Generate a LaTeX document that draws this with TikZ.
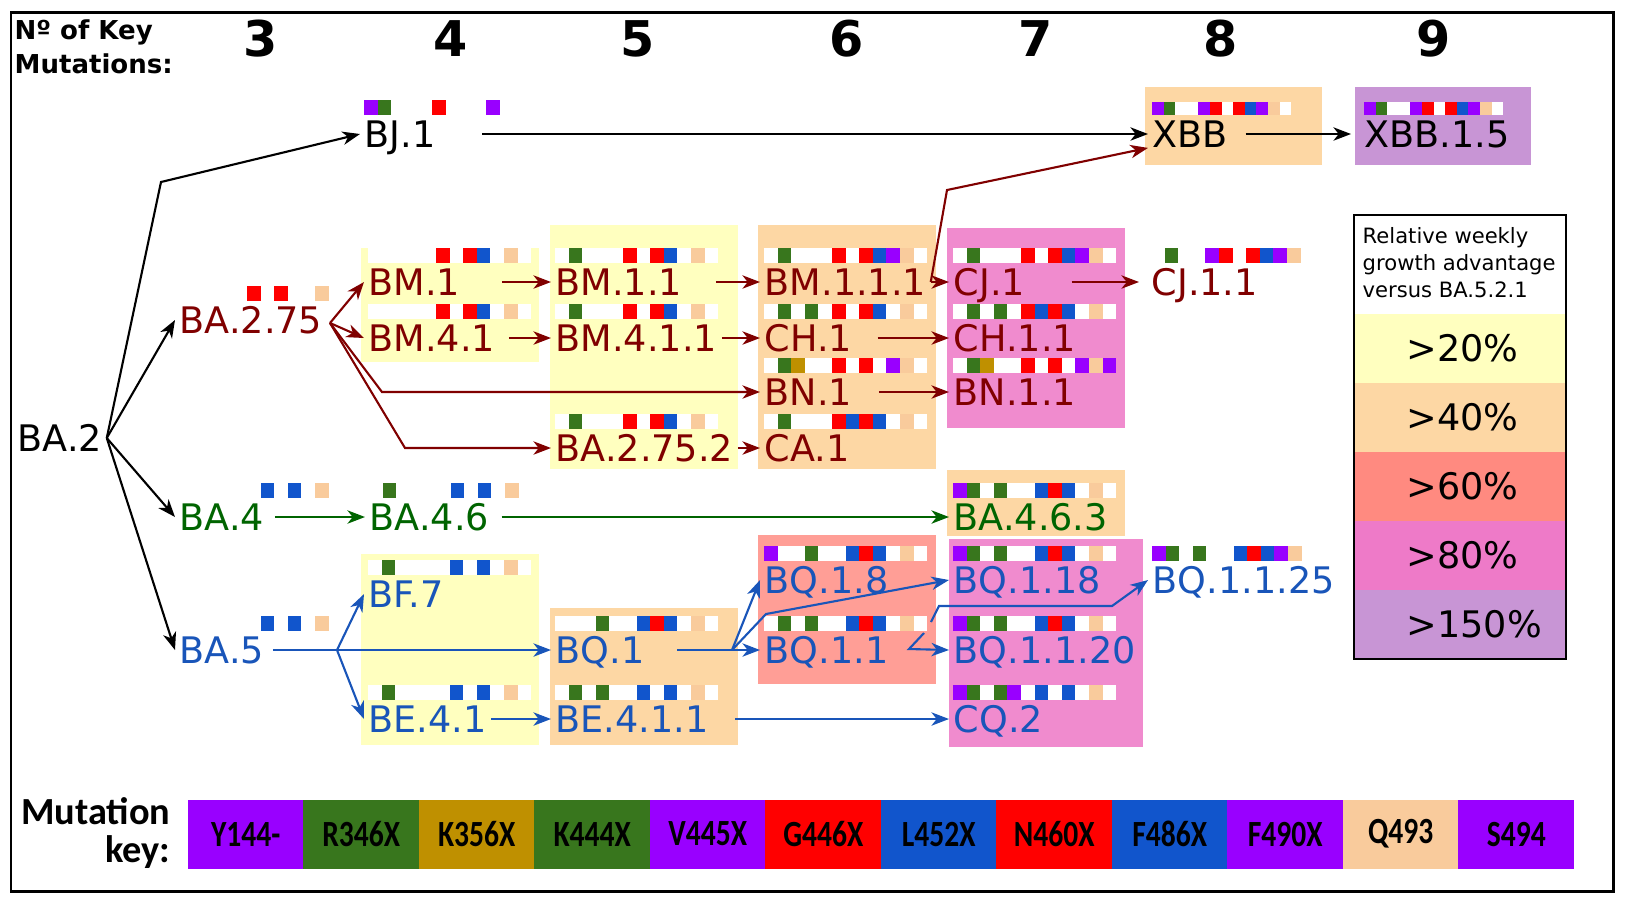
\documentclass[tikz,border=0pt]{standalone}
\usepackage{fontspec}
\setmainfont{DejaVu Sans}
\newfontfamily\keyfont[FakeStretch=0.8]{Carlito}
\newfontfamily\keyhead{Carlito}
\usetikzlibrary{arrows.meta,calc}

\definecolor{kpurple}{HTML}{9900FF}
\definecolor{kgreen}{HTML}{38761D}
\definecolor{kgold}{HTML}{BF9000}
\definecolor{kred}{HTML}{FF0000}
\definecolor{kblue}{HTML}{1155CC}
\definecolor{kpeach}{HTML}{F9CB9C}
\colorlet{mut1}{kpurple}
\colorlet{mut2}{kgreen}
\colorlet{mut3}{kgold}
\colorlet{mut4}{kgreen}
\colorlet{mut5}{kpurple}
\colorlet{mut6}{kred}
\colorlet{mut7}{kblue}
\colorlet{mut8}{kred}
\colorlet{mut9}{kblue}
\colorlet{mut10}{kpurple}
\colorlet{mut11}{kpeach}
\colorlet{mut12}{kpurple}

\definecolor{lin275}{RGB}{128,0,0}
\definecolor{lin4}{RGB}{0,100,0}
\definecolor{lin5}{RGB}{25,85,185}

\definecolor{grow20}{RGB}{255,255,191}
\definecolor{grow40}{RGB}{253,215,164}
\definecolor{grow60}{RGB}{255,138,128}
\definecolor{grow80}{RGB}{238,122,200}
\definecolor{grow150}{RGB}{200,149,213}
\definecolor{box60}{RGB}{255,158,150}
\definecolor{box80}{RGB}{240,139,206}

% coloured mutation cells above a lineage label
\newcommand{\mutdots}[3][13.6]{%
  \foreach \m in {#3}
    \fill[mut\m] ($(#2.west)+({4+#1*(\m-1)},{-19-1.1*#1})$) rectangle ++(#1,{1.1*#1});}
\newcommand{\mutbar}[3][13.6]{%
  \fill[white] ($(#2.west)+(4,{-19-1.1*#1})$) rectangle ++({12*#1},{1.1*#1});
  \mutdots[#1]{#2}{#3}}

\tikzset{
  lineage/.style={anchor=west, inner xsep=0.04cm, inner ysep=0pt,
    text height=7.5pt, text depth=0pt, font=\fontsize{10.4}{12}\selectfont},
  arr/.style={-{Stealth[length=5pt,width=3.8pt,inset=1.5pt]}, line width=0.6pt},
  mutnum/.style={font=\fontsize{14}{16}\selectfont\bfseries},
  hdr/.style={anchor=north west, align=left, inner sep=0pt,
    font=\fontsize{7.4}{9.7}\selectfont\bfseries},
  keycell/.style={minimum width=1.155cm, minimum height=0.69cm, inner sep=0pt,
    font=\keyfont\bfseries\fontsize{10.5}{12}\selectfont},
  keyname/.style={anchor=east, align=right, inner sep=0pt,
    font=\keyhead\bfseries\fontsize{10.9}{10.8}\selectfont},
  legtitle/.style={anchor=north west, align=left, inner sep=0pt,
    font=\fontsize{6}{7.7}\selectfont},
  bandlab/.style={anchor=west, inner sep=0pt, font=\fontsize{10.4}{12}\selectfont}
}

\begin{document}
\begin{tikzpicture}[x=0.01cm, y=-0.01cm]
  \useasboundingbox (0,0) rectangle (1625,899);
  \draw[line width=0.85pt] (11,12) rectangle (1613,891);

  % growth boxes
  \fill[grow20] (361,248) rectangle (539,362);
  \fill[grow20] (549.5,225) rectangle (738,469);
  \fill[grow40] (757.5,225) rectangle (935.5,469);
  \fill[box80] (946.5,228) rectangle (1124.5,428);
  \fill[grow40] (1145,87) rectangle (1322,165);
  \fill[grow150] (1355,87) rectangle (1531,165);
  \fill[grow40] (946.5,470) rectangle (1124.5,536);
  \fill[grow20] (361,554) rectangle (538.5,745);
  \fill[grow40] (549.5,608) rectangle (738,745);
  \fill[box60] (757.5,535) rectangle (935.5,684);
  \fill[box80] (948.5,539) rectangle (1143,747);

  % header
  \node[hdr] (hdr) at (14,19) {Nº of Key\\Mutations:};
  \foreach \n/\x in {3/261,4/451,5/638,6/847,7/1036,8/1221,9/1434}
    \node[mutnum] (num\n) at (\x,39) {\n};

  % lineages
  \node[lineage] (ba2) at (13,438) {BA.2};
  \node[lineage] (bj1) at (360,134) {BJ.1};
  \node[lineage] (xbb) at (1148,134) {XBB};
  \node[lineage] (xbb15) at (1360,134) {XBB.1.5};

  \node[lineage, lin275] (ba275) at (175,320) {BA.2.75};
  \node[lineage, lin275] (bm1) at (364,282) {BM.1};
  \node[lineage, lin275] (bm41) at (364,338) {BM.4.1};
  \node[lineage, lin275] (bm11) at (551,282) {BM.1.1};
  \node[lineage, lin275] (bm411) at (551,338) {BM.4.1.1};
  \node[lineage, lin275] (ba2752) at (551,448) {BA.2.75.2};
  \node[lineage, lin275] (bm111) at (760,282) {BM.1.1.1};
  \node[lineage, lin275] (ch1) at (760,338) {CH.1};
  \node[lineage, lin275] (bn1) at (760,392) {BN.1};
  \node[lineage, lin275] (ca1) at (760,448) {CA.1};
  \node[lineage, lin275] (cj1) at (949,282) {CJ.1};
  \node[lineage, lin275] (ch11) at (949,338) {CH.1.1};
  \node[lineage, lin275] (bn11) at (949,392) {BN.1.1};
  \node[lineage, lin275] (cj11) at (1147,282) {CJ.1.1};

  \node[lineage, lin4] (ba4) at (175,517) {BA.4};
  \node[lineage, lin4] (ba46) at (365,517) {BA.4.6};
  \node[lineage, lin4] (ba463) at (949,517) {BA.4.6.3};

  \node[lineage, lin5] (ba5) at (175,650) {BA.5};
  \node[lineage, lin5] (bf7) at (364,594) {BF.7};
  \node[lineage, lin5] (be41) at (364,719) {BE.4.1};
  \node[lineage, lin5] (bq1) at (551,650) {BQ.1};
  \node[lineage, lin5] (be411) at (551,719) {BE.4.1.1};
  \node[lineage, lin5] (bq18) at (760,580) {BQ.1.8};
  \node[lineage, lin5] (bq11) at (760,650) {BQ.1.1};
  \node[lineage, lin5] (bq118) at (949,580) {BQ.1.18};
  \node[lineage, lin5] (bq1120) at (949,650) {BQ.1.1.20};
  \node[lineage, lin5] (cq2) at (949,719) {CQ.2};
  \node[lineage, lin5] (bq1125) at (1148,580) {BQ.1.1.25};

  % key mutations
  \mutdots{bj1}{1,2,6,10}
  \mutbar[11.6]{xbb}{1,2,5,6,8,9,10,11}
  \mutbar[11.6]{xbb15}{1,2,5,6,8,9,10,11}
  \mutdots{ba275}{6,8,11}
  \mutbar{bm1}{6,8,9,11}
  \mutbar{bm41}{6,8,9,11}
  \mutbar{bm11}{2,6,8,9,11}
  \mutbar{bm411}{2,6,8,9,11}
  \mutbar{ba2752}{2,6,8,9,11}
  \mutbar{bm111}{2,6,8,9,10,11}
  \mutbar{ch1}{2,4,6,8,9,11}
  \mutbar{bn1}{2,3,6,8,10,11}
  \mutbar{ca1}{2,6,7,8,9,11}
  \mutbar{cj1}{2,6,8,9,10,11}
  \mutbar{ch11}{2,4,6,7,8,9,11}
  \mutbar{bn11}{2,3,6,8,10,11,12}
  \mutdots{cj11}{2,5,6,8,9,10,11}
  \mutdots{ba4}{7,9,11}
  \mutdots{ba46}{2,7,9,11}
  \mutbar{ba463}{1,2,4,7,8,9,11}
  \mutdots{ba5}{7,9,11}
  \mutbar{bf7}{2,7,9,11}
  \mutbar{be41}{2,7,9,11}
  \mutbar{bq1}{4,7,8,9,11}
  \mutbar{be411}{2,4,7,9,11}
  \mutbar{bq18}{1,4,7,8,9,11}
  \mutbar{bq11}{2,4,7,8,9,11}
  \mutbar{bq118}{1,2,4,7,8,9,11}
  \mutbar{bq1120}{1,2,4,7,8,9,11}
  \mutbar{cq2}{1,2,4,5,7,9,11}
  \mutdots{bq1125}{1,2,4,7,8,9,10,11}

  % bends and forks
  \coordinate (bjbend) at (161,182);
  \coordinate (f275) at (330,323);
  \coordinate (nbend) at (382,392);
  \coordinate (cbend) at (405,448);
  \coordinate (xbend) at (947,190);
  \coordinate (f5) at (337,650);
  \coordinate (fq1) at (732,650);
  \coordinate (qbend) at (766,614);
  \coordinate (q11a) at (924,633);
  \coordinate (q11b) at (909,649);
  \coordinate (q11c) at (931,622);
  \coordinate (q11d) at (939,606);
  \coordinate (q11e) at (1112,606);

  \draw[arr] (ba2.east) -- (bjbend) -- (bj1.west);
  \draw[arr] (ba2.east) -- (ba275.west);
  \draw[arr] (ba2.east) -- (ba4.west);
  \draw[arr] (ba2.east) -- (ba5.west);
  \draw[arr] ($(bj1.east)+(42,0)$) -- (xbb.west);
  \draw[arr] ($(xbb.east)+(13,0)$) -- ($(xbb15.west)+(-9,0)$);

  \draw[arr, lin275] (f275) -- (bm1.west);
  \draw[arr, lin275] (f275) -- (bm41.west);
  \draw[arr, lin275] (f275) -- (nbend) -- (bn1.west);
  \draw[arr, lin275] (f275) -- (cbend) -- (ba2752.west);
  \draw[arr, lin275] ($(bm1.east)+(37,0)$) -- (bm11.west);
  \draw[arr, lin275] ($(bm41.east)+(9,0)$) -- (bm411.west);
  \draw[arr, lin275] ($(bm11.east)+(29,0)$) -- (bm111.west);
  \draw[arr, lin275] (bm411.east) -- (ch1.west);
  \draw[arr, lin275] (ba2752.east) -- (ca1.west);
  \draw[arr, lin275] (bm111.east) -- (cj1.west);
  \draw[arr, lin275] (bm111.east) -- (xbend) -- (xbb.south west);
  \draw[arr, lin275] ($(ch1.east)+(21,0)$) -- (ch11.west);
  \draw[arr, lin275] ($(bn1.east)+(22,0)$) -- (bn11.west);
  \draw[arr, lin275] ($(cj1.east)+(42,0)$) -- ($(cj11.west)+(-8,0)$);

  \draw[arr, lin4] ($(ba4.east)+(6,0)$) -- (ba46.west);
  \draw[arr, lin4] ($(ba46.east)+(8,0)$) -- (ba463.west);

  \draw[arr, lin5] ($(ba5.east)+(4,0)$) -- (bq1.west);
  \draw[arr, lin5] (f5) -- (bf7.west);
  \draw[arr, lin5] (f5) -- (be41.west);
  \draw[arr, lin5] (be41.east) -- (be411.west);
  \draw[arr, lin5] ($(be411.east)+(22,0)$) -- (cq2.west);
  \draw[arr, lin5] ($(bq1.east)+(28,0)$) -- (fq1) -- (bq11.west);
  \draw[arr, lin5] (fq1) -- (bq18.west);
  \draw[arr, lin5] (fq1) -- (qbend) -- (bq118.west);
  \draw[arr, lin5] (q11a) -- (q11b) -- (bq1120.west);
  \draw[arr, lin5] (q11c) -- (q11d) -- (q11e) -- (bq1125.west);

  % legend
  \node[legtitle] (legtitle) at (1362,227) {Relative weekly\\growth advantage\\versus BA.5.2.1};
  \foreach \i/\c/\t in {1/grow20/20,2/grow40/40,3/grow60/60,4/grow80/80,5/grow150/150} {
    \fill[\c] (1354,{314+69*(\i-1)}) rectangle ++(212,69);
    \node[bandlab] (band\i) at (1406,{348.5+69*(\i-1)}) {>\t\%};
  }
  \draw[line width=0.75pt] (1354,215) rectangle (1566,659);

  % mutation key
  \node[keyname] (keyname) at (171,833) {Mutation\\key:};
  \foreach \i/\m in {1/Y144-,2/R346X,3/K356X,4/K444X,5/V445X,6/G446X,7/L452X,8/N460X,9/F486X,10/F490X,11/Q493,12/S494}
    \node[keycell, fill=mut\i] (key\i) at ({188+115.5*\i-57.75},834) {\m};
\end{tikzpicture}
\end{document}
